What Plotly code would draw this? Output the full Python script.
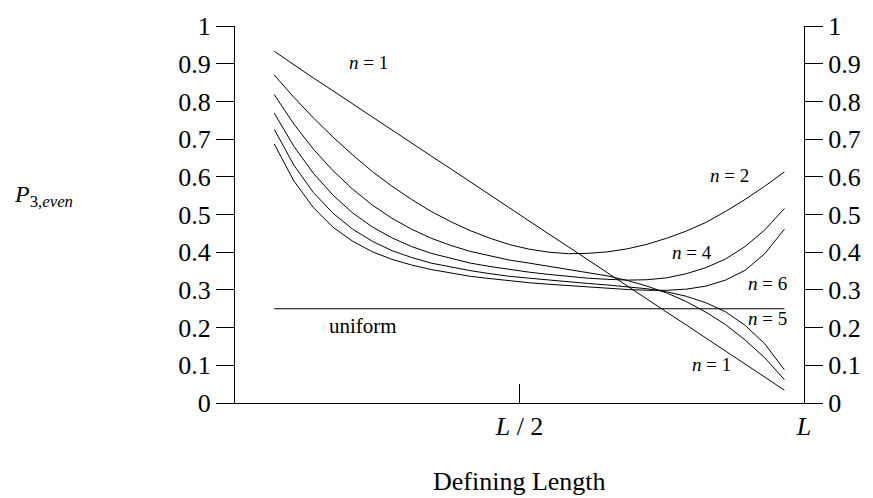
import plotly.graph_objects as go

# Defining length positions (axis runs from 0 to L)
x_len = [1, 1.5, 2, 2.5, 3, 3.5, 4, 4.5, 5, 5.5, 6, 6.5, 7, 7.5, 8, 8.5, 9, 9.5,
         10, 10.5, 11, 11.5, 12, 12.5, 13, 13.5, 14]
L_val = 14.5

n1 = [0.933, 0.897, 0.862, 0.828, 0.793, 0.759, 0.724, 0.690, 0.655, 0.621, 0.586,
      0.552, 0.517, 0.483, 0.448, 0.414, 0.379, 0.345, 0.310, 0.276, 0.241, 0.207,
      0.172, 0.138, 0.103, 0.069, 0.034]
n2 = [0.870, 0.811, 0.756, 0.705, 0.658, 0.614, 0.575, 0.540, 0.508, 0.481, 0.457,
      0.437, 0.420, 0.408, 0.400, 0.396, 0.397, 0.401, 0.409, 0.421, 0.437, 0.456,
      0.479, 0.508, 0.540, 0.575, 0.613]
n3 = [0.818, 0.740, 0.673, 0.616, 0.567, 0.525, 0.490, 0.461, 0.437, 0.418, 0.402,
      0.390, 0.379, 0.371, 0.363, 0.355, 0.347, 0.337, 0.325, 0.310, 0.292, 0.269,
      0.241, 0.208, 0.167, 0.120, 0.062]
n4 = [0.769, 0.681, 0.609, 0.551, 0.504, 0.467, 0.438, 0.415, 0.397, 0.383, 0.371,
      0.362, 0.354, 0.347, 0.341, 0.336, 0.331, 0.328, 0.326, 0.327, 0.332, 0.343,
      0.359, 0.382, 0.415, 0.459, 0.516]
n5 = [0.726, 0.631, 0.558, 0.503, 0.461, 0.429, 0.404, 0.386, 0.371, 0.360, 0.351,
      0.343, 0.336, 0.331, 0.326, 0.321, 0.317, 0.313, 0.308, 0.303, 0.295, 0.283,
      0.266, 0.242, 0.206, 0.157, 0.088]
n6 = [0.687, 0.589, 0.518, 0.466, 0.429, 0.401, 0.381, 0.366, 0.354, 0.344, 0.336,
      0.330, 0.324, 0.319, 0.315, 0.311, 0.307, 0.304, 0.301, 0.299, 0.299, 0.302,
      0.310, 0.326, 0.352, 0.396, 0.461]
uniform = [0.25] * len(x_len)

y_ticks = [0, 0.1, 0.2, 0.3, 0.4, 0.5, 0.6, 0.7, 0.8, 0.9, 1]
y_ticktext = ["0", "0.1", "0.2", "0.3", "0.4", "0.5", "0.6", "0.7", "0.8", "0.9", "1"]
x_ticks = [L_val / 2, L_val]
x_ticktext = ["<i>L</i> / 2", "<i>L</i>"]

labels = [
    ("<i>n</i> = 1", 3.40, 0.903),
    ("<i>n</i> = 2", 12.61, 0.603),
    ("<i>n</i> = 4", 11.64, 0.400),
    ("<i>n</i> = 6", 13.57, 0.316),
    ("<i>n</i> = 5", 13.57, 0.225),
    ("<i>n</i> = 1", 12.13, 0.103),
]
uniform_label = ("uniform", 3.27, 0.203)

FONT = "Liberation Serif"
line_style = dict(color="black", width=1)

fig = go.Figure()
for ys in [n1, n2, n3, n4, n5, n6]:
    fig.add_trace(go.Scatter(x=x_len, y=ys, mode="lines", line=line_style,
                             showlegend=False, hoverinfo="skip"))
fig.add_trace(go.Scatter(x=x_len, y=uniform, mode="lines", line=line_style,
                         showlegend=False, hoverinfo="skip", yaxis="y2"))

axis_common = dict(
    range=[0, 1], tickvals=y_ticks, ticktext=y_ticktext,
    ticks="outside", ticklen=18, tickcolor="black", tickwidth=1,
    showline=True, linecolor="black", linewidth=1,
    showgrid=False, zeroline=False,
    tickfont=dict(family=FONT, size=26, color="black"),
)

fig.update_layout(
    width=873, height=498,
    margin=dict(l=235, r=62, t=20, b=95),
    paper_bgcolor="white", plot_bgcolor="white",
    showlegend=False,
    xaxis=dict(
        range=[0, L_val], tickvals=x_ticks, ticktext=x_ticktext,
        ticks="inside", ticklen=19, tickcolor="black", tickwidth=1,
        showline=True, linecolor="black", linewidth=1,
        showgrid=False, zeroline=False,
        tickfont=dict(family=FONT, size=26, color="black"),
    ),
    yaxis=dict(side="left", **axis_common),
    yaxis2=dict(side="right", overlaying="y", **axis_common),
)

for text, xv, yv in labels:
    fig.add_annotation(x=xv, y=yv, xref="x", yref="y", text=text, showarrow=False,
                       xanchor="center", yanchor="middle",
                       font=dict(family=FONT, size=19, color="black"))
fig.add_annotation(x=uniform_label[1], y=uniform_label[2], xref="x", yref="y",
                   text=uniform_label[0], showarrow=False,
                   xanchor="center", yanchor="middle",
                   font=dict(family=FONT, size=21, color="black"))

fig.add_annotation(x=0.5, y=-0.209, xref="paper", yref="paper", text="Defining Length",
                   showarrow=False, xanchor="center", yanchor="middle",
                   font=dict(family=FONT, size=26, color="black"))
fig.add_annotation(x=-0.392, y=0.548, xref="paper", yref="paper",
                   text="<i>P</i><sub>3,<i>even</i></sub>",
                   showarrow=False, xanchor="left", yanchor="middle",
                   font=dict(family=FONT, size=24, color="black"))

fig.write_html("out.html")
